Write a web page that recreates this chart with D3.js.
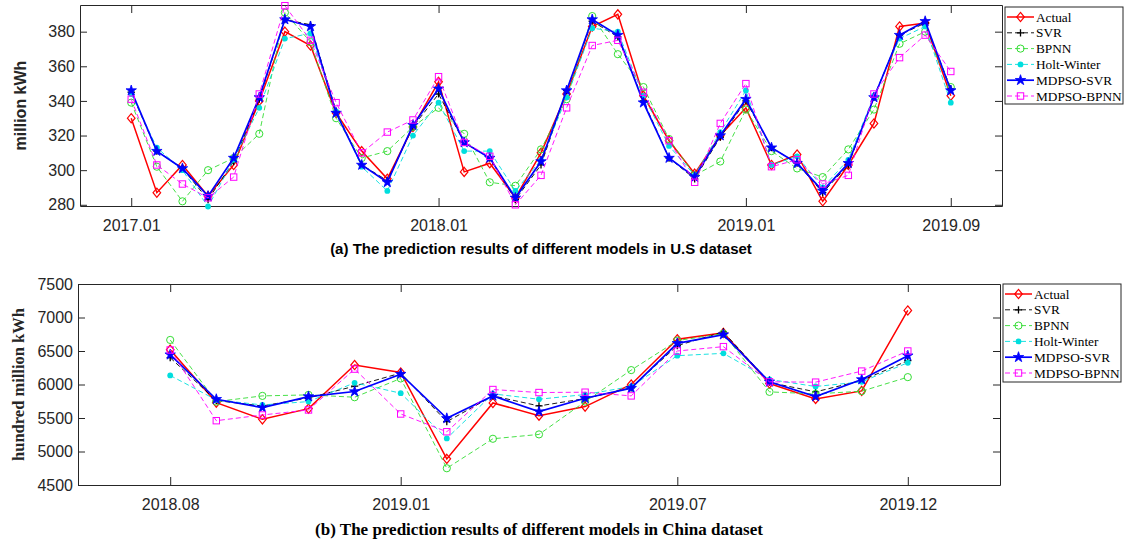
<!DOCTYPE html>
<html>
<head>
<meta charset="utf-8">
<script src="https://cdn.jsdelivr.net/npm/d3@7"></script>
<style>
  body { margin: 0; background: #fff; }
  svg { display: block; }
</style>
</head>
<body>
<div id="chart"></div>
<script>
// ---- data: U.S dataset (million kWh), 2017.01 .. 2019.09 ----
var usMonths = ["2017.01","2017.02","2017.03","2017.04","2017.05","2017.06","2017.07","2017.08","2017.09","2017.10","2017.11","2017.12",
  "2018.01","2018.02","2018.03","2018.04","2018.05","2018.06","2018.07","2018.08","2018.09","2018.10","2018.11","2018.12",
  "2019.01","2019.02","2019.03","2019.04","2019.05","2019.06","2019.07","2019.08","2019.09"];
var usTicks = ["2017.01", "2018.01", "2019.01", "2019.09"];
var usActual    = [330,287,303,285,303,340,380,372,333,311,295,325,351,299,304,284,310,344,383,390,343,317,298,320,336,303,309,282,303,327,383,385,343];
var usSVR       = [345,311,301,283,305,341,387,384,334,303,294,325,344,316,307,283,303,346,386,377,340,307,295,319,340,313,304,287,303,342,378,385,347];
var usBPNN      = [339,302,282,300,307,321,391,374,330,307,311,325,336,321,293,291,312,341,389,367,348,318,297,305,335,311,301,296,312,335,373,380,348];
var usHW        = [344,313,300,279,306,336,376,379,334,302,288,320,339,311,311,288,306,342,382,380,343,314,297,322,346,303,308,290,306,343,376,383,339];
var usMdpsoSVR  = [346,311,301,285,307,342,387,383,333,303,293,326,347,316,307,284,305,346,387,378,339,307,296,320,341,313,304,288,304,342,378,386,346];
var usMdpsoBPNN = [341,303,292,284,296,344,395,375,339,310,322,329,354,316,308,280,297,336,372,375,345,317,293,327,350,302,306,292,297,344,365,378,357];
var usYTicks = [280, 300, 320, 340, 360, 380];

// ---- data: China dataset (hundred million kWh), 2018.08 .. 2019.12 ----
var cnMonths = ["2018.08","2018.09","2018.10","2018.11","2018.12","2019.01","2019.02","2019.03","2019.04","2019.05","2019.06",
  "2019.07","2019.08","2019.09","2019.10","2019.11","2019.12"];
var cnTicks = ["2018.08", "2019.01", "2019.07", "2019.12"];
var cnActual    = [6520,5730,5480,5640,6290,6180,4890,5725,5535,5670,6000,6675,6770,6015,5785,5905,7105];
var cnSVR       = [6400,5760,5680,5800,5975,6170,5445,5830,5680,5790,5950,6580,6785,6030,5890,6060,6355];
var cnBPNN      = [6665,5745,5830,5845,5810,6090,4750,5190,5255,5745,6215,6655,6760,5890,5860,5900,6110];
var cnHW        = [6135,5770,5695,5745,6025,5870,5195,5860,5780,5850,5970,6430,6465,6075,5970,6040,6325];
var cnMdpsoSVR  = [6445,5780,5655,5820,5895,6155,5495,5830,5595,5795,5945,6615,6745,6040,5820,6075,6430];
var cnMdpsoBPNN = [6515,5460,5545,5620,6230,5560,5295,5925,5880,5885,5830,6500,6565,6040,6035,6200,6500];
var cnYTicks = [4500, 5000, 5500, 6000, 6500, 7000, 7500];

var seriesNames = ["Actual", "SVR", "BPNN", "Holt-Winter", "MDPSO-SVR", "MDPSO-BPNN"];

// line + marker styles, in legend order
var styles = [
  { color: "#ff0000", width: 1.5, dash: null,  marker: "diamond" },
  { color: "#000000", width: 0.9, dash: "5,3", marker: "plus" },
  { color: "#33dd33", width: 0.9, dash: "5,3", marker: "circle" },
  { color: "#00dede", width: 0.9, dash: "5,3", marker: "dot" },
  { color: "#0000ff", width: 1.7, dash: null,  marker: "star" },
  { color: "#ff00ff", width: 0.9, dash: "5,3", marker: "square" }
];

var svg = d3.select("#chart").append("svg")
  .attr("width", 1124)
  .attr("height", 542);

svg.append("rect").attr("width", 1124).attr("height", 542).attr("fill", "#fff");

var axisColor = "#262626";

function drawMarker(g, type, color) {
  if (type === "diamond") {
    g.append("path").attr("d", "M0,-4.6L3.8,0L0,4.6L-3.8,0Z")
      .attr("fill", "none").attr("stroke", color).attr("stroke-width", 1.2);
  } else if (type === "plus") {
    g.append("path").attr("d", "M-3.6,0H3.6M0,-3.6V3.6")
      .attr("stroke", color).attr("stroke-width", 1.3);
  } else if (type === "circle") {
    g.append("circle").attr("r", 3.6)
      .attr("fill", "none").attr("stroke", color).attr("stroke-width", 1);
  } else if (type === "dot") {
    g.append("circle").attr("r", 2.9).attr("fill", color);
  } else if (type === "star") {
    g.append("path").attr("d", d3.symbol(d3.symbolStar, 34)())
      .attr("fill", color).attr("stroke", color).attr("stroke-width", 0.8);
  } else if (type === "square") {
    g.append("rect").attr("x", -3.2).attr("y", -3.2).attr("width", 6.4).attr("height", 6.4)
      .attr("fill", "none").attr("stroke", color).attr("stroke-width", 1);
  }
}

function drawPanel(cfg) {
  var x = d3.scaleLinear().domain([-2, cfg.months.length + 1]).range([cfg.left, cfg.right]);
  var y = d3.scaleLinear().domain(cfg.yDomain).range([cfg.bottom, cfg.top]);
  var tickIdx = cfg.ticks.map(function(t) { return cfg.months.indexOf(t); });

  var g = svg.append("g");

  // axes with inward ticks (bottom/left labelled, top/right bare)
  var tickLen = 8;
  var xBottom = g.append("g").attr("transform", "translate(0," + cfg.bottom + ")")
    .call(d3.axisBottom(x).tickValues(tickIdx).tickFormat(function(i) { return cfg.months[i]; })
      .tickSizeInner(-tickLen).tickSizeOuter(0).tickPadding(14));
  var xTop = g.append("g").attr("transform", "translate(0," + cfg.top + ")")
    .call(d3.axisTop(x).tickValues(tickIdx).tickFormat("").tickSizeInner(-tickLen).tickSizeOuter(0));
  var yLeft = g.append("g").attr("transform", "translate(" + cfg.left + ",0)")
    .call(d3.axisLeft(y).tickValues(cfg.yTicks).tickFormat(d3.format("d"))
      .tickSizeInner(-7).tickSizeOuter(0).tickPadding(5));
  var yRight = g.append("g").attr("transform", "translate(" + cfg.right + ",0)")
    .call(d3.axisRight(y).tickValues(cfg.yTicks).tickFormat("").tickSizeInner(-7).tickSizeOuter(0));

  [xBottom, xTop, yLeft, yRight].forEach(function(a) {
    a.selectAll("path,line").attr("stroke", axisColor).attr("stroke-width", 1);
    a.selectAll("text").attr("fill", axisColor)
      .style("font-family", "'Liberation Sans', Arial, sans-serif").style("font-size", "16px");
  });

  // series
  cfg.series.forEach(function(values, k) {
    var st = styles[k];
    var line = d3.line().x(function(d, i) { return x(i); }).y(function(d) { return y(d); });
    g.append("path").datum(values)
      .attr("d", line)
      .attr("fill", "none")
      .attr("stroke", st.color)
      .attr("stroke-width", st.width)
      .attr("stroke-dasharray", st.dash);
    values.forEach(function(v, i) {
      var m = g.append("g").attr("transform", "translate(" + x(i) + "," + y(v) + ")");
      drawMarker(m, st.marker, st.color);
    });
  });

  // y label
  g.append("text")
    .attr("transform", "translate(" + cfg.yLabelX + "," + ((cfg.top + cfg.bottom) / 2) + ") rotate(-90)")
    .attr("text-anchor", "middle")
    .attr("dominant-baseline", "central")
    .style("font-family", cfg.labelFont)
    .style("font-size", cfg.yLabelSize)
    .style("font-weight", "bold")
    .attr("fill", axisColor)
    .text(cfg.yLabel);

  // caption
  g.append("text")
    .attr("x", (cfg.left + cfg.right) / 2)
    .attr("y", cfg.captionY)
    .attr("text-anchor", "middle")
    .style("font-family", cfg.labelFont)
    .style("font-size", cfg.captionSize)
    .style("font-weight", "bold")
    .attr("fill", "#000")
    .text(cfg.caption);

  // legend
  var lg = g.append("g");
  lg.append("rect")
    .attr("x", cfg.legend.x).attr("y", cfg.legend.y)
    .attr("width", 118).attr("height", cfg.legend.h)
    .attr("fill", "#fff").attr("stroke", axisColor).attr("stroke-width", 1);
  seriesNames.forEach(function(name, k) {
    var st = styles[k];
    var ry = cfg.legend.y + 10 + k * 15.8;
    var x0 = cfg.legend.x + 2, x1 = cfg.legend.x + 29;
    lg.append("line").attr("x1", x0).attr("x2", x1).attr("y1", ry).attr("y2", ry)
      .attr("stroke", st.color).attr("stroke-width", st.width).attr("stroke-dasharray", st.dash);
    drawMarker(lg.append("g").attr("transform", "translate(" + ((x0 + x1) / 2) + "," + ry + ")"), st.marker, st.color);
    lg.append("text")
      .attr("x", x1 + 2).attr("y", ry)
      .attr("dominant-baseline", "central")
      .style("font-family", "'Liberation Serif', 'Times New Roman', serif")
      .style("font-size", "13.3px")
      .attr("fill", "#000")
      .text(name);
  });
}

drawPanel({
  months: usMonths, ticks: usTicks,
  series: [usActual, usSVR, usBPNN, usHW, usMdpsoSVR, usMdpsoBPNN],
  yDomain: [279.3, 395.4], yTicks: usYTicks,
  left: 80, right: 1002, top: 5, bottom: 206,
  yLabel: "million kWh", yLabelX: 20, yLabelSize: "16px",
  labelFont: "'Liberation Sans', Arial, sans-serif",
  caption: "(a) The prediction results of different models in U.S dataset",
  captionY: 254, captionSize: "15px",
  legend: { x: 1005, y: 7, h: 97 }
});

drawPanel({
  months: cnMonths, ticks: cnTicks,
  series: [cnActual, cnSVR, cnBPNN, cnHW, cnMdpsoSVR, cnMdpsoBPNN],
  yDomain: [4500, 7500], yTicks: cnYTicks,
  left: 78, right: 1000, top: 284, bottom: 485,
  yLabel: "hundred million kWh", yLabelX: 18, yLabelSize: "16.5px",
  labelFont: "'Liberation Serif', 'Times New Roman', serif",
  caption: "(b) The prediction results of different models in China dataset",
  captionY: 535, captionSize: "17px",
  legend: { x: 1003, y: 284, h: 98 }
});
</script>
</body>
</html>
